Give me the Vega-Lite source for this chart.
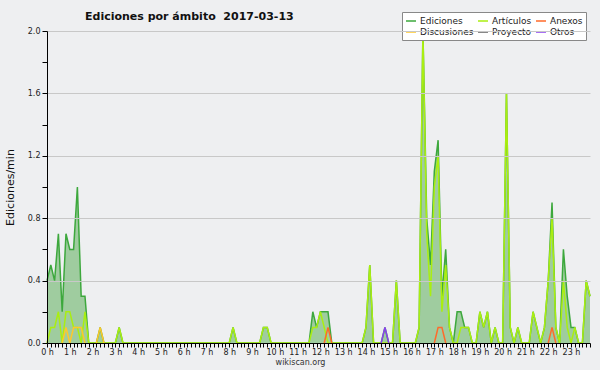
{
  "$schema": "https://vega.github.io/schema/vega-lite/v6.json",
  "width": 543,
  "height": 312,
  "autosize": {"type": "none"},
  "padding": {"left": 47, "top": 31, "right": 10, "bottom": 27},
  "background": "#eeeff1",
  "config": {"view": {"stroke": null}, "font": "DejaVu Sans"},
  "title": {"text": "Ediciones por ámbito\u00a0 2017-03-13", "anchor": "start", "frame": "group", "dx": 38, "offset": -19, "baseline": "alphabetic", "font": "DejaVu Sans", "fontSize": 11, "fontWeight": "bold", "color": "#111"},
  "datasets": {
    "main": [
      {"t":0,"Ediciones":0.4,"Artículos":0},{"t":10,"Ediciones":0.5,"Artículos":0.1},{"t":20,"Ediciones":0.4,"Artículos":0.1},{"t":30,"Ediciones":0.7,"Artículos":0.2},
      {"t":40,"Ediciones":0.2,"Artículos":0},{"t":50,"Ediciones":0.7,"Artículos":0.2},{"t":60,"Ediciones":0.6,"Artículos":0.2},{"t":70,"Ediciones":0.6,"Artículos":0.1},
      {"t":80,"Ediciones":1.0,"Artículos":0.1},{"t":90,"Ediciones":0.3,"Artículos":0},{"t":100,"Ediciones":0.3,"Artículos":0.2},{"t":110,"Ediciones":0,"Artículos":0},
      {"t":120,"Ediciones":0,"Artículos":0},{"t":130,"Ediciones":0,"Artículos":0},{"t":140,"Ediciones":0.1,"Artículos":0},{"t":150,"Ediciones":0,"Artículos":0},
      {"t":160,"Ediciones":0,"Artículos":0},{"t":170,"Ediciones":0,"Artículos":0},{"t":180,"Ediciones":0,"Artículos":0},{"t":190,"Ediciones":0.1,"Artículos":0.1},
      {"t":200,"Ediciones":0,"Artículos":0},{"t":210,"Ediciones":0,"Artículos":0},{"t":220,"Ediciones":0,"Artículos":0},{"t":230,"Ediciones":0,"Artículos":0},
      {"t":240,"Ediciones":0,"Artículos":0},{"t":250,"Ediciones":0,"Artículos":0},{"t":260,"Ediciones":0,"Artículos":0},{"t":270,"Ediciones":0,"Artículos":0},
      {"t":280,"Ediciones":0,"Artículos":0},{"t":290,"Ediciones":0,"Artículos":0},{"t":300,"Ediciones":0,"Artículos":0},{"t":310,"Ediciones":0,"Artículos":0},
      {"t":320,"Ediciones":0,"Artículos":0},{"t":330,"Ediciones":0,"Artículos":0},{"t":340,"Ediciones":0,"Artículos":0},{"t":350,"Ediciones":0,"Artículos":0},
      {"t":360,"Ediciones":0,"Artículos":0},{"t":370,"Ediciones":0,"Artículos":0},{"t":380,"Ediciones":0,"Artículos":0},{"t":390,"Ediciones":0,"Artículos":0},
      {"t":400,"Ediciones":0,"Artículos":0},{"t":410,"Ediciones":0,"Artículos":0},{"t":420,"Ediciones":0,"Artículos":0},{"t":430,"Ediciones":0,"Artículos":0},
      {"t":440,"Ediciones":0,"Artículos":0},{"t":450,"Ediciones":0,"Artículos":0},{"t":460,"Ediciones":0,"Artículos":0},{"t":470,"Ediciones":0,"Artículos":0},
      {"t":480,"Ediciones":0,"Artículos":0},{"t":490,"Ediciones":0.1,"Artículos":0.1},{"t":500,"Ediciones":0,"Artículos":0},{"t":510,"Ediciones":0,"Artículos":0},
      {"t":520,"Ediciones":0,"Artículos":0},{"t":530,"Ediciones":0,"Artículos":0},{"t":540,"Ediciones":0,"Artículos":0},{"t":550,"Ediciones":0,"Artículos":0},
      {"t":560,"Ediciones":0,"Artículos":0},{"t":570,"Ediciones":0.1,"Artículos":0.1},{"t":580,"Ediciones":0.1,"Artículos":0.1},{"t":590,"Ediciones":0,"Artículos":0},
      {"t":600,"Ediciones":0,"Artículos":0},{"t":610,"Ediciones":0,"Artículos":0},{"t":620,"Ediciones":0,"Artículos":0},{"t":630,"Ediciones":0,"Artículos":0},
      {"t":640,"Ediciones":0,"Artículos":0},{"t":650,"Ediciones":0,"Artículos":0},{"t":660,"Ediciones":0,"Artículos":0},{"t":670,"Ediciones":0,"Artículos":0},
      {"t":680,"Ediciones":0,"Artículos":0},{"t":690,"Ediciones":0,"Artículos":0},{"t":700,"Ediciones":0.2,"Artículos":0.1},{"t":710,"Ediciones":0.1,"Artículos":0.1},
      {"t":720,"Ediciones":0.2,"Artículos":0.2},{"t":730,"Ediciones":0.2,"Artículos":0.1},{"t":740,"Ediciones":0.2,"Artículos":0},{"t":750,"Ediciones":0,"Artículos":0},
      {"t":760,"Ediciones":0,"Artículos":0},{"t":770,"Ediciones":0,"Artículos":0},{"t":780,"Ediciones":0,"Artículos":0},{"t":790,"Ediciones":0,"Artículos":0},
      {"t":800,"Ediciones":0,"Artículos":0},{"t":810,"Ediciones":0,"Artículos":0},{"t":820,"Ediciones":0,"Artículos":0},{"t":830,"Ediciones":0,"Artículos":0},
      {"t":840,"Ediciones":0.1,"Artículos":0.1},{"t":850,"Ediciones":0.5,"Artículos":0.5},{"t":860,"Ediciones":0,"Artículos":0},{"t":870,"Ediciones":0,"Artículos":0},
      {"t":880,"Ediciones":0,"Artículos":0},{"t":890,"Ediciones":0.1,"Artículos":0},{"t":900,"Ediciones":0,"Artículos":0},{"t":910,"Ediciones":0,"Artículos":0},
      {"t":920,"Ediciones":0.4,"Artículos":0.4},{"t":930,"Ediciones":0,"Artículos":0},{"t":940,"Ediciones":0,"Artículos":0},{"t":950,"Ediciones":0,"Artículos":0},
      {"t":960,"Ediciones":0,"Artículos":0},{"t":970,"Ediciones":0,"Artículos":0},{"t":980,"Ediciones":0.1,"Artículos":0.1},{"t":990,"Ediciones":2.0,"Artículos":2.0},
      {"t":1000,"Ediciones":0.8,"Artículos":0.7},{"t":1010,"Ediciones":0.5,"Artículos":0.3},{"t":1020,"Ediciones":1.1,"Artículos":1.0},{"t":1030,"Ediciones":1.3,"Artículos":1.2},
      {"t":1040,"Ediciones":0.3,"Artículos":0.2},{"t":1050,"Ediciones":0.6,"Artículos":0.5},{"t":1060,"Ediciones":0.1,"Artículos":0.1},{"t":1070,"Ediciones":0,"Artículos":0},
      {"t":1080,"Ediciones":0.2,"Artículos":0},{"t":1090,"Ediciones":0.2,"Artículos":0.1},{"t":1100,"Ediciones":0.1,"Artículos":0.1},{"t":1110,"Ediciones":0.1,"Artículos":0.1},
      {"t":1120,"Ediciones":0,"Artículos":0},{"t":1130,"Ediciones":0,"Artículos":0},{"t":1140,"Ediciones":0.2,"Artículos":0.2},{"t":1150,"Ediciones":0.1,"Artículos":0.1},
      {"t":1160,"Ediciones":0.2,"Artículos":0.2},{"t":1170,"Ediciones":0,"Artículos":0},{"t":1180,"Ediciones":0.1,"Artículos":0.1},{"t":1190,"Ediciones":0,"Artículos":0},
      {"t":1200,"Ediciones":0,"Artículos":0},{"t":1210,"Ediciones":1.6,"Artículos":1.6},{"t":1220,"Ediciones":0.1,"Artículos":0.1},{"t":1230,"Ediciones":0,"Artículos":0},
      {"t":1240,"Ediciones":0.1,"Artículos":0.1},{"t":1250,"Ediciones":0,"Artículos":0},{"t":1260,"Ediciones":0,"Artículos":0},{"t":1270,"Ediciones":0,"Artículos":0},
      {"t":1280,"Ediciones":0.2,"Artículos":0.2},{"t":1290,"Ediciones":0.1,"Artículos":0.1},{"t":1300,"Ediciones":0,"Artículos":0},{"t":1310,"Ediciones":0.1,"Artículos":0.1},
      {"t":1320,"Ediciones":0.4,"Artículos":0.4},{"t":1330,"Ediciones":0.9,"Artículos":0.8},{"t":1340,"Ediciones":0.1,"Artículos":0.1},{"t":1350,"Ediciones":0,"Artículos":0},
      {"t":1360,"Ediciones":0.6,"Artículos":0.4},{"t":1370,"Ediciones":0.3,"Artículos":0.1},{"t":1380,"Ediciones":0.1,"Artículos":0},{"t":1390,"Ediciones":0.1,"Artículos":0.1},
      {"t":1400,"Ediciones":0,"Artículos":0},{"t":1410,"Ediciones":0,"Artículos":0},{"t":1420,"Ediciones":0.4,"Artículos":0.4},{"t":1430,"Ediciones":0.3,"Artículos":0.3}
    ],
    "minor": [
      {"t":40,"s":"Discusiones","g":"d1","v":0},{"t":50,"s":"Discusiones","g":"d1","v":0.1},{"t":60,"s":"Discusiones","g":"d1","v":0},{"t":70,"s":"Discusiones","g":"d1","v":0.1},
      {"t":80,"s":"Discusiones","g":"d1","v":0.1},{"t":90,"s":"Discusiones","g":"d1","v":0.1},{"t":100,"s":"Discusiones","g":"d1","v":0},
      {"t":130,"s":"Discusiones","g":"d2","v":0},{"t":140,"s":"Discusiones","g":"d2","v":0.1},{"t":150,"s":"Discusiones","g":"d2","v":0},
      {"t":730,"s":"Anexos","g":"a1","v":0},{"t":740,"s":"Anexos","g":"a1","v":0.1},{"t":750,"s":"Anexos","g":"a1","v":0},
      {"t":1020,"s":"Anexos","g":"a2","v":0},{"t":1030,"s":"Anexos","g":"a2","v":0.1},{"t":1040,"s":"Anexos","g":"a2","v":0.1},{"t":1050,"s":"Anexos","g":"a2","v":0},
      {"t":1320,"s":"Anexos","g":"a3","v":0},{"t":1330,"s":"Anexos","g":"a3","v":0.1},{"t":1340,"s":"Anexos","g":"a3","v":0},
      {"t":880,"s":"Otros","g":"o1","v":0},{"t":890,"s":"Otros","g":"o1","v":0.1},{"t":900,"s":"Otros","g":"o1","v":0}
    ],
    "note": [{"label": "CC BY-SA 3.0"}]
  },
  "encoding": {
    "x": {
      "field": "t", "type": "quantitative",
      "scale": {"domain": [0, 1430], "nice": false, "zero": false},
      "axis": {
        "title": "wikiscan.org", "titleFont": "DejaVu Sans", "titleFontSize": 8, "titleFontWeight": "normal", "titleColor": "#333",
        "titleX": 253, "titleY": 21, "titleBaseline": "alphabetic", "titleAlign": "center",
        "tickCount": 143, "labelExpr": "datum.value % 60 === 0 ? (datum.value / 60) + ' h' : ''",
        "labelOverlap": false, "labelFlush": false, "labelBound": false, "labelFontSize": 8, "labelColor": "#222", "labelPadding": 1,
        "tickSize": 4, "tickColor": "#000", "domainColor": "#000", "grid": false, "zindex": 1
      }
    },
    "y": {
      "field": "v", "type": "quantitative",
      "scale": {"domain": [0, 2], "nice": false},
      "axis": {
        "title": "Ediciones/min", "titleFont": "DejaVu Sans", "titleFontSize": 11, "titleFontWeight": "normal", "titleColor": "#111", "titlePadding": 12,
        "values": [0, 0.2, 0.4, 0.6, 0.8, 1.0, 1.2, 1.4, 1.6, 1.8, 2.0],
        "labelExpr": "round(datum.value * 10) % 4 === 0 ? format(datum.value, '.1f') : ''",
        "labelFontSize": 8, "labelColor": "#222", "labelPadding": 2,
        "grid": true, "gridColor": "#c8c8c8",
        "gridOpacity": {"condition": {"test": "round(datum.value * 10) % 4 === 0 && datum.value > 0", "value": 1}, "value": 0},
        "tickSize": 5, "tickColor": "#000", "domainColor": "#000", "zindex": 1
      }
    }
  },
  "layer": [
    {
      "data": {"name": "main"},
      "transform": [{"fold": ["Ediciones", "Artículos"], "as": ["s", "v"]}, {"filter": "datum.s === 'Ediciones'"}],
      "mark": {"type": "area", "color": "#9fcc9f", "opacity": 1}
    },
    {
      "data": {"name": "main"},
      "transform": [{"fold": ["Ediciones", "Artículos"], "as": ["s", "v"]}, {"filter": "datum.s === 'Ediciones'"}],
      "mark": {"type": "line", "strokeWidth": 1.5},
      "encoding": {
        "color": {
          "field": "s", "type": "nominal",
          "scale": {"domain": ["Ediciones", "Artículos", "Anexos", "Discusiones", "Proyecto", "Otros"], "range": ["#3da83d", "#aaee11", "#ff6a2a", "#ffc82a", "#606060", "#8a3ff0"]},
          "legend": {
            "orient": "none", "legendX": 355, "legendY": -19, "columns": 3, "direction": "horizontal", "title": null,
            "fillColor": "#ffffff", "strokeColor": "#888888", "padding": 3, "symbolType": "stroke", "symbolSize": 100, "symbolStrokeWidth": 1.5,
            "labelFont": "DejaVu Sans", "labelFontSize": 9, "labelColor": "#222", "rowPadding": 0, "columnPadding": 1, "labelOffset": 3, "labelLimit": 120
          }
        }
      }
    },
    {
      "data": {"name": "main"},
      "transform": [{"fold": ["Ediciones", "Artículos"], "as": ["s", "v"]}, {"filter": "datum.s === 'Artículos'"}],
      "mark": {"type": "line", "strokeWidth": 1.5},
      "encoding": {
        "color": {"field": "s", "type": "nominal", "scale": {"domain": ["Ediciones", "Artículos", "Anexos", "Discusiones", "Proyecto", "Otros"], "range": ["#3da83d", "#aaee11", "#ff6a2a", "#ffc82a", "#606060", "#8a3ff0"]}}
      }
    },
    {
      "data": {"name": "minor"},
      "mark": {"type": "line", "strokeWidth": 1.5},
      "encoding": {
        "color": {"field": "s", "type": "nominal", "scale": {"domain": ["Ediciones", "Artículos", "Anexos", "Discusiones", "Proyecto", "Otros"], "range": ["#3da83d", "#aaee11", "#ff6a2a", "#ffc82a", "#606060", "#8a3ff0"]}},
        "detail": {"field": "g", "type": "nominal"}
      }
    },
    {
      "data": {"name": "note"},
      "mark": {"type": "text", "align": "right", "baseline": "alphabetic", "dy": 21, "fontSize": 6, "color": "#333", "font": "DejaVu Sans"},
      "encoding": {"x": {"datum": 1430}, "y": {"datum": 0}, "text": {"field": "label"}}
    }
  ]
}
